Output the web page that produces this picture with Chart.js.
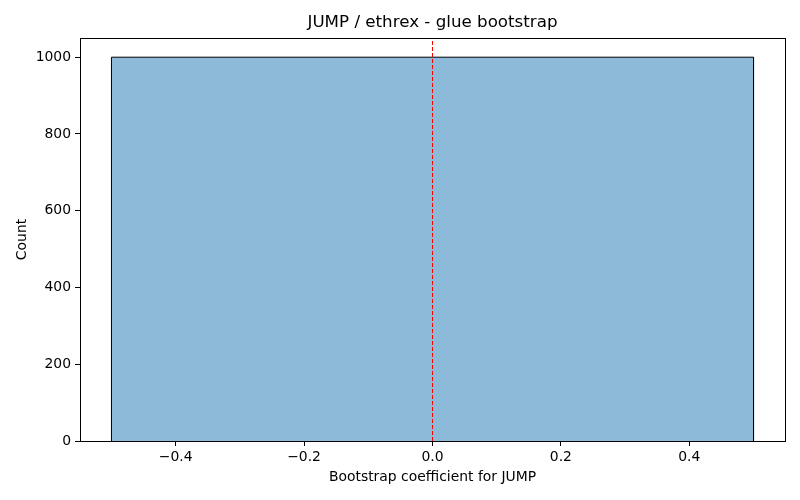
<!DOCTYPE html>
<html>
<head>
<meta charset="utf-8">
<script src="https://cdn.jsdelivr.net/npm/chart.js@4/dist/chart.umd.min.js"></script>
<style>
  html, body { margin: 0; padding: 0; background: #fff; }
  #wrap { width: 800px; height: 500px; }
</style>
</head>
<body>
<div id="wrap"><canvas id="lienzo"></canvas></div>
<script>
'use strict';

// datos del histograma
const binEdges = [-0.5, 0.5];
const binCounts = [1000];
const refLineX = 0;
const xTicks = [-0.4, -0.2, 0.0, 0.2, 0.4];
const xTickLabels = ['\u22120.4', '\u22120.2', '0.0', '0.2', '0.4'];
const yTicks = [0, 200, 400, 600, 800, 1000];
const xRange = [-0.549, 0.549];
const yRange = [0, 1050];
const titulo = 'JUMP / ethrex - glue bootstrap';

// contorno de las barras a partir de los bordes y conteos
const contorno = [];
binCounts.forEach((c, i) => {
    contorno.push({ x: binEdges[i], y: 0 });
    contorno.push({ x: binEdges[i], y: c });
    contorno.push({ x: binEdges[i + 1], y: c });
    contorno.push({ x: binEdges[i + 1], y: 0 });
});

Chart.defaults.font.family = '"DejaVu Sans", sans-serif';
Chart.defaults.color = '#000';

// marco completo y título centrado sobre el área de trazado
const marco = {
    id: 'marco',
    afterDatasetsDraw(chart) {
        const a = chart.chartArea;
        const ctx = chart.ctx;
        ctx.save();
        ctx.strokeStyle = '#000';
        ctx.lineWidth = 1;
        ctx.strokeRect(Math.round(a.left) + 0.5, Math.round(a.top) + 0.5,
            Math.round(a.right - a.left), Math.round(a.bottom - a.top));
        ctx.fillStyle = '#000';
        ctx.font = '16.7px "DejaVu Sans", sans-serif';
        ctx.textAlign = 'center';
        ctx.textBaseline = 'middle';
        ctx.fillText(titulo, (a.left + a.right) / 2, 23);
        ctx.restore();
    }
};

new Chart(document.getElementById('lienzo'), {
    type: 'line',
    data: {
        datasets: [{
            label: 'hist',
            data: contorno,
            order: 2,
            borderColor: '#000',
            borderWidth: 1,
            backgroundColor: 'rgb(142,186,217)',
            fill: 'origin',
            pointRadius: 0,
            tension: 0
        }, {
            label: 'cero',
            data: [{ x: refLineX, y: yRange[0] }, { x: refLineX, y: yRange[1] }],
            order: 1,
            borderColor: 'red',
            borderWidth: 1,
            borderDash: [4, 2],
            fill: false,
            pointRadius: 0
        }]
    },
    options: {
        responsive: true,
        maintainAspectRatio: false,
        animation: false,
        layout: { padding: { left: 10, right: 15, top: 38, bottom: 10 } },
        plugins: {
            legend: { display: false },
            tooltip: { enabled: false },
            title: { display: false }
        },
        scales: {
            x: {
                type: 'linear',
                min: xRange[0],
                max: xRange[1],
                afterBuildTicks(ax) { ax.ticks = xTicks.map(v => ({ value: v })); },
                afterFit(ax) { ax.height = 49; },
                ticks: {
                    font: { size: 13.9 },
                    padding: 3,
                    maxRotation: 0,
                    callback: (v) => xTickLabels[xTicks.indexOf(v)]
                },
                grid: { drawOnChartArea: false, drawTicks: true, tickLength: 5, color: '#000' },
                border: { color: '#000' },
                title: { display: true, text: 'Bootstrap coefficient for JUMP', font: { size: 13.9 }, padding: { top: 4 } }
            },
            y: {
                min: yRange[0],
                max: yRange[1],
                afterBuildTicks(ax) { ax.ticks = yTicks.map(v => ({ value: v })); },
                afterFit(ax) { ax.width = 70; },
                ticks: { font: { size: 13.9 }, padding: 4, callback: (v) => String(v) },
                grid: { drawOnChartArea: false, drawTicks: true, tickLength: 5, color: '#000' },
                border: { color: '#000' },
                title: { display: true, text: 'Count', font: { size: 13.9 }, padding: { bottom: 6 } }
            }
        }
    },
    plugins: [marco]
});
</script>
</body>
</html>
